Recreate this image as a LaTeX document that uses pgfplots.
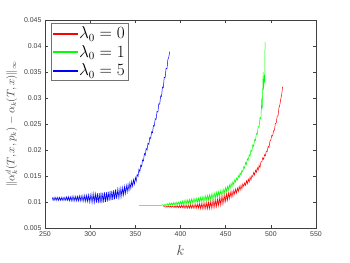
\documentclass[border=0pt]{standalone}
\usepackage{fontspec}
\usepackage{pgfplots}
\pgfplotsset{compat=1.18}
\newfontfamily\tickfont{Liberation Sans}
\definecolor{axgray}{gray}{0.25}
\definecolor{lred}{rgb}{1,0,0}
\definecolor{lgreen}{rgb}{0,1,0}
\definecolor{lblue}{rgb}{0,0,1}
\begin{document}
\begin{tikzpicture}
\useasboundingbox (-45bp,-35bp) rectangle (305bp,228bp);
\begin{axis}[
 scale only axis, width=271bp, height=208bp,
 xmin=250, xmax=550, ymin=0.005, ymax=0.045,
 xtick={250,300,350,400,450,500,550},
 ytick={0.005,0.01,0.015,0.02,0.025,0.03,0.035,0.04,0.045},
 tick align=inside, tick pos=both, major tick length=3bp,
 axis line style={axgray, line width=0.4pt},
 tick style={axgray, line width=0.4pt},
 ticklabel style={font=\tickfont\fontsize{7}{8}\selectfont, text=axgray},
 /pgf/number format/assume math mode=true,
 scaled y ticks=false,
 yticklabel style={/pgf/number format/fixed, /pgf/number format/precision=3},
 xlabel={$k$}, xlabel style={font=\fontsize{14}{16}\selectfont, text=axgray, yshift=-2bp},
 ylabel={$\|\alpha_k^d(T,x,p_k)-\alpha_k(T,x)\|_\infty$},
 ylabel style={font=\fontsize{10.5}{12}\selectfont, text=axgray},
 legend style={at={(rel axis cs:0.022,0.985)}, anchor=north west, fill=white, font=\fontsize{16}{19}\selectfont, inner sep=1.5pt, row sep=1pt, cells={anchor=west}},
 every axis legend/.append style={draw=black!55},
 legend image code/.code={\path[draw=none] (0bp,0bp); \fill[#1] (0bp,-0.55pt) rectangle (24bp,0.55pt); \fill[#1] (0bp,-0.55pt) rectangle (24bp,0.55pt);},
]
\addlegendimage{lred}
\addlegendentry{$\lambda_0=0$}
\addlegendimage{lgreen}
\addlegendentry{$\lambda_0=1$}
\addlegendimage{lblue}
\addlegendentry{$\lambda_0=5$}
\addplot[lred, line width=0.5pt, forget plot] coordinates {
(381,.0091)(382,.0091)(383,.0091)(384,.0090)(385,.0092)(386,.0090)(387,.0092)(388,.0090)(389,.0092)(390,.0090)
(391,.0092)(392,.0090)(393,.0092)(394,.0089)(395,.0093)(396,.0089)(397,.0093)(398,.0089)(399,.0093)(400,.0089)
(401,.0094)(402,.0089)(403,.0094)(404,.0088)(405,.0094)(406,.0088)(407,.0094)(408,.0088)(409,.0094)(410,.0088)
(411,.0095)(412,.0088)(413,.0095)(414,.0088)(415,.0095)(416,.0088)(417,.0096)(418,.0088)(419,.0096)(420,.0088)
(421,.0097)(422,.0087)(423,.0097)(424,.0087)(425,.0098)(426,.0087)(427,.0098)(428,.0087)(429,.0099)(430,.0087)
(431,.0100)(432,.0087)(433,.0101)(434,.0088)(435,.0102)(436,.0089)(437,.0104)(438,.0090)(439,.0105)(440,.0091)
(441,.0106)(442,.0093)(443,.0108)(444,.0094)(445,.0110)(446,.0096)(447,.0112)(448,.0098)(449,.0114)(450,.0101)
(451,.0116)(452,.0103)(453,.0118)(454,.0106)(455,.0119)(456,.0109)(457,.0121)(458,.0111)(459,.0123)(460,.0115)
(461,.0125)(462,.0117)(463,.0127)(464,.0120)(465,.0130)(466,.0123)(467,.0132)(468,.0125)(469,.0135)(470,.0130)
(471,.0137)(472,.0132)(473,.0141)(474,.0135)(475,.0144)(476,.0138)(477,.0148)(478,.0142)(479,.0151)(480,.0149)
(481,.0157)(482,.0152)(483,.0161)(484,.0157)(485,.0166)(486,.0161)(487,.0171)(488,.0166)(489,.0177)(490,.0177)
(491,.0185)(492,.0182)(493,.0191)(494,.0189)(495,.0198)(496,.0197)(497,.0207)(498,.0205)(499,.0217)(500,.0219)
(501,.0228)(502,.0227)(503,.0237)(504,.0238)(505,.0251)(506,.0252)(507,.0265)(508,.0266)(509,.0281)(510,.0287)
(511,.0298)(512,.0306)(513,.0322)
};
\addplot[lgreen, line width=0.5pt, forget plot] coordinates {
(354,.0093)(356,.0093)(358,.0093)(360,.0093)(362,.0093)(364,.0093)(366,.0093)(368,.0093)(370,.0093)(372,.0093)
(374,.0093)(376,.0093)(378,.0093)
(380,.0095)(381,.0093)(382,.0095)(383,.0093)(384,.0096)(385,.0093)(386,.0097)(387,.0093)(388,.0098)(389,.0094)
(390,.0098)(391,.0094)(392,.0099)(393,.0094)(394,.0099)(395,.0094)(396,.0100)(397,.0095)(398,.0100)(399,.0095)
(400,.0101)(401,.0095)(402,.0102)(403,.0095)(404,.0103)(405,.0096)(406,.0104)(407,.0096)(408,.0104)(409,.0097)
(410,.0105)(411,.0097)(412,.0106)(413,.0098)(414,.0106)(415,.0098)(416,.0107)(417,.0099)(418,.0107)(419,.0099)
(420,.0108)(421,.0100)(422,.0109)(423,.0101)(424,.0110)(425,.0101)(426,.0111)(427,.0102)(428,.0112)(429,.0103)
(430,.0113)(431,.0104)(432,.0114)(433,.0104)(434,.0115)(435,.0105)(436,.0116)(437,.0107)(438,.0118)(439,.0108)
(440,.0119)(441,.0110)(442,.0120)(443,.0111)(444,.0122)(445,.0113)(446,.0123)(447,.0115)(448,.0125)(449,.0117)
(450,.0128)(451,.0120)(452,.0130)(453,.0123)(454,.0133)(455,.0126)(456,.0136)(457,.0129)(458,.0139)(459,.0133)
(460,.0143)(461,.0138)(462,.0146)(463,.0142)(464,.0151)(465,.0147)(466,.0156)(467,.0152)(468,.0161)(469,.0158)
(470,.0168)(471,.0165)(472,.0176)(473,.0172)(474,.0183)(475,.0180)(476,.0191)(477,.0188)(478,.0200)(479,.0197)
(480,.0210)(481,.0207)(482,.0220)(483,.0218)(484,.0232)(485,.0230)(486,.0245)(487,.0244)(488,.0262)(489,.0260)
(490,.0300)(490.5,.0280)(491.5,.0350)(492,.0315)(493,.0345)(493.3,.0330)(493.6,.0408)
};
\addplot[lblue, line width=0.5pt, forget plot] coordinates {
(258,.0109)(259,.0103)(260,.0109)(261,.0103)(262,.0109)(263,.0103)(264,.0109)(265,.0103)(266,.0109)(267,.0103)
(268,.0109)(269,.0103)(270,.0109)(271,.0103)(272,.0109)(273,.0103)(274,.0110)(275,.0103)(276,.0110)(277,.0102)
(278,.0110)(279,.0102)(280,.0111)(281,.0102)(282,.0111)(283,.0102)(284,.0111)(285,.0102)(286,.0111)(287,.0102)
(288,.0112)(289,.0102)(290,.0112)(291,.0102)(292,.0112)(293,.0101)(294,.0113)(295,.0101)(296,.0113)(297,.0101)
(298,.0114)(299,.0100)(300,.0114)(301,.0100)(302,.0115)(303,.0099)(304,.0116)(305,.0099)(306,.0116)(307,.0099)
(308,.0117)(309,.0098)(310,.0117)(311,.0098)(312,.0118)(313,.0098)(314,.0118)(315,.0099)(316,.0119)(317,.0100)
(318,.0119)(319,.0101)(320,.0120)(321,.0102)(322,.0121)(323,.0103)(324,.0122)(325,.0104)(326,.0123)(327,.0105)
(328,.0124)(329,.0106)(330,.0124)(331,.0108)(332,.0125)(333,.0109)(334,.0127)(335,.0111)(336,.0128)(337,.0113)
(338,.0130)(339,.0116)(340,.0132)(341,.0119)(342,.0134)(343,.0122)(344,.0137)(345,.0126)(346,.0140)(347,.0130)
(348,.0143)(349,.0134)(350,.0147)(351,.0140)(352,.0153)(353,.0149)(354,.0163)(355,.0158)(356,.0171)(357,.0168)
(358,.0181)(359,.0179)(360,.0193)(361,.0190)(362,.0203)(363,.0200)(364,.0213)(365,.0211)(366,.0224)(367,.0222)
(368,.0235)(369,.0233)(370,.0247)(371,.0246)(372,.0260)(373,.0259)(374,.0274)(375,.0273)(376,.0289)(377,.0288)
(378,.0304)(379,.0303)(380,.0321)(381,.0320)(382,.0340)(383,.0339)(384,.0357)(385,.0356)(386,.0374)(387,.0378)
(388,.0389)
};
\end{axis}
\end{tikzpicture}
\end{document}
